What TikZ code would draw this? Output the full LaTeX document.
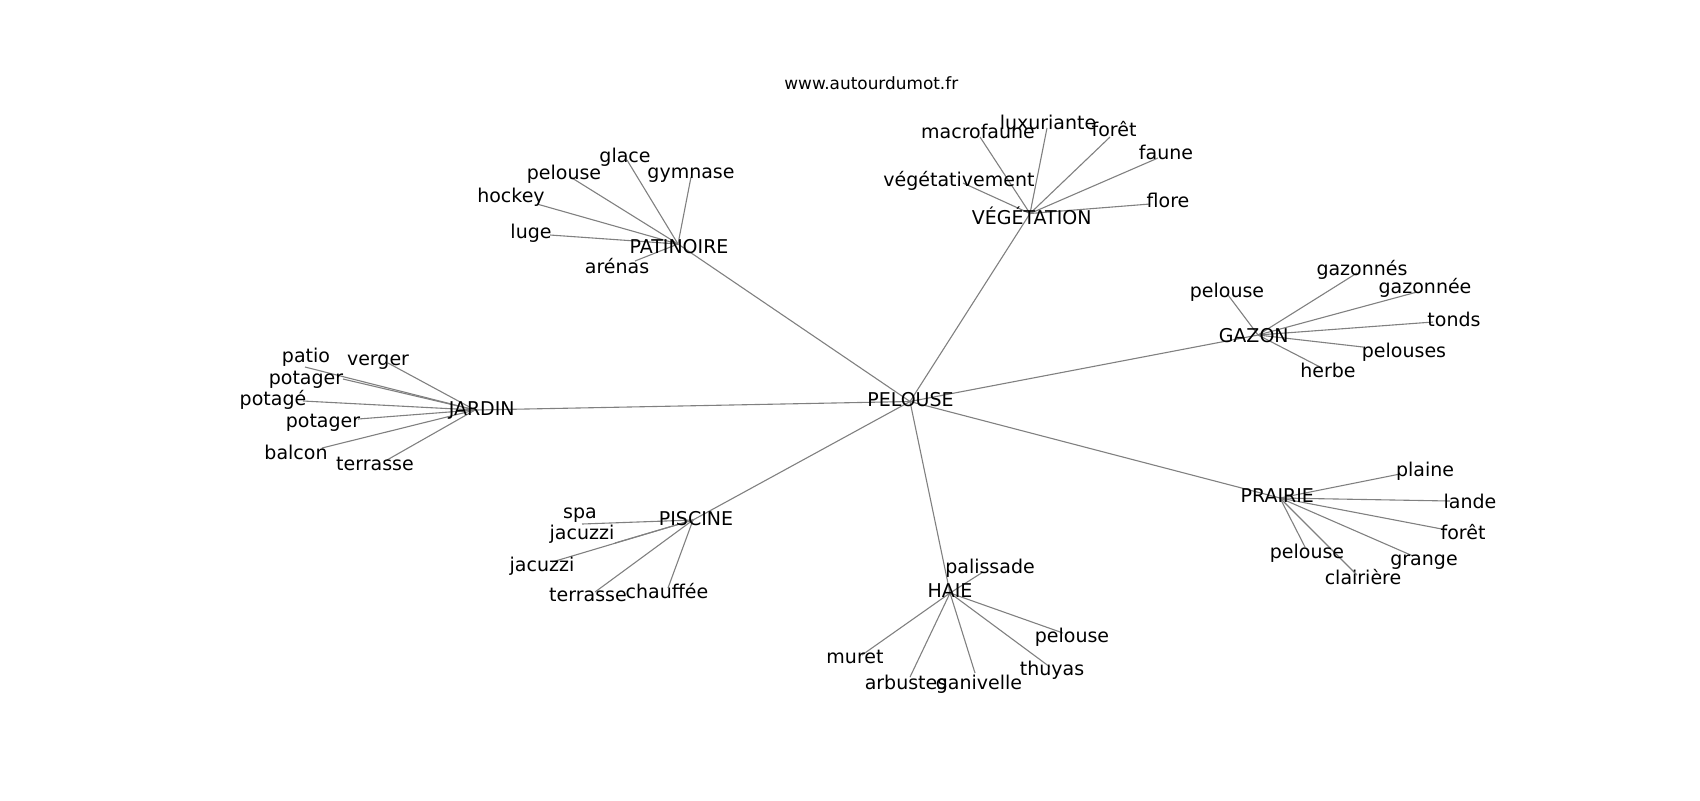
\documentclass[tikz,border=0pt]{standalone}
\usepackage{fontspec}
\setmainfont{DejaVu Sans}
\usepackage{tikz}

\begin{document}
\begin{tikzpicture}[x=0.5pt,y=-0.5pt,
  word/.style={inner sep=0pt,text height=6.9pt,text depth=0pt,font=\fontsize{9.5}{11}\selectfont},
  edge/.style={draw=gray,line width=0.55pt}]

\useasboundingbox (0,0) rectangle (1700,800);

\coordinate (Pelouse) at (910,401.5);
\coordinate (Patinoire) at (678,244);
\coordinate (Vegetation) at (1030,213.5);
\coordinate (Gazon) at (1258,335);
\coordinate (Jardin) at (475,410);
\coordinate (Piscine) at (693,520);
\coordinate (Haie) at (950,593);
\coordinate (Prairie) at (1280,498);

\coordinate (GlacePat) at (627,160);
\coordinate (PelousePat) at (572,178);
\coordinate (GymnasePat) at (691,177);
\coordinate (HockeyPat) at (537,204);
\coordinate (LugePat) at (550,235);
\coordinate (ArenasPat) at (635,261);

\coordinate (MacrofauneVeg) at (980,137);
\coordinate (LuxurianteVeg) at (1047,128);
\coordinate (ForetVeg) at (1110,137);
\coordinate (FauneVeg) at (1158,158);
\coordinate (VegetativementVeg) at (963,183);
\coordinate (FloreVeg) at (1150,204);

\coordinate (PelouseGaz) at (1228,295);
\coordinate (GazonnesGaz) at (1357,273);
\coordinate (GazonneeGaz) at (1417,292);
\coordinate (TondsGaz) at (1433,322);
\coordinate (PelousesGaz) at (1363,347);
\coordinate (HerbeGaz) at (1322,368);

\coordinate (PatioJar) at (305,367);
\coordinate (VergerJar) at (388,363);
\coordinate (PotagerJarA) at (343,379);
\coordinate (PotageJar) at (303,401);
\coordinate (PotagerJarB) at (358,419);
\coordinate (BalconJar) at (322,448);
\coordinate (TerrasseJar) at (387,460);

\coordinate (SpaPis) at (582,524);
\coordinate (JacuzziPisA) at (615,543);
\coordinate (JacuzziPisB) at (552,562);
\coordinate (TerrassePis) at (595,592);
\coordinate (ChauffeePis) at (668,588);

\coordinate (PalissadeHai) at (983,572);
\coordinate (PelouseHai) at (1063,633);
\coordinate (ThuyasHai) at (1050,667);
\coordinate (GanivelleHai) at (975,673);
\coordinate (ArbustesHai) at (910,677);
\coordinate (MuretHai) at (862,655);

\coordinate (PlainePra) at (1400,474);
\coordinate (LandePra) at (1450,501);
\coordinate (ForetPra) at (1447,530);
\coordinate (GrangePra) at (1413,556);
\coordinate (PelousePra) at (1305,547);
\coordinate (ClairierePra) at (1357,575);


\draw [edge] (Pelouse) -- (Patinoire);
\draw [edge] (Pelouse) -- (Vegetation);
\draw [edge] (Pelouse) -- (Gazon);
\draw [edge] (Pelouse) -- (Jardin);
\draw [edge] (Pelouse) -- (Piscine);
\draw [edge] (Pelouse) -- (Haie);
\draw [edge] (Pelouse) -- (Prairie);

\draw [edge] (Patinoire) -- (GlacePat);
\draw [edge] (Patinoire) -- (PelousePat);
\draw [edge] (Patinoire) -- (GymnasePat);
\draw [edge] (Patinoire) -- (HockeyPat);
\draw [edge] (Patinoire) -- (LugePat);
\draw [edge] (Patinoire) -- (ArenasPat);

\draw [edge] (Vegetation) -- (MacrofauneVeg);
\draw [edge] (Vegetation) -- (LuxurianteVeg);
\draw [edge] (Vegetation) -- (ForetVeg);
\draw [edge] (Vegetation) -- (FauneVeg);
\draw [edge] (Vegetation) -- (VegetativementVeg);
\draw [edge] (Vegetation) -- (FloreVeg);

\draw [edge] (Gazon) -- (PelouseGaz);
\draw [edge] (Gazon) -- (GazonnesGaz);
\draw [edge] (Gazon) -- (GazonneeGaz);
\draw [edge] (Gazon) -- (TondsGaz);
\draw [edge] (Gazon) -- (PelousesGaz);
\draw [edge] (Gazon) -- (HerbeGaz);

\draw [edge] (Jardin) -- (PatioJar);
\draw [edge] (Jardin) -- (VergerJar);
\draw [edge] (Jardin) -- (PotagerJarA);
\draw [edge] (Jardin) -- (PotageJar);
\draw [edge] (Jardin) -- (PotagerJarB);
\draw [edge] (Jardin) -- (BalconJar);
\draw [edge] (Jardin) -- (TerrasseJar);

\draw [edge] (Piscine) -- (SpaPis);
\draw [edge] (Piscine) -- (JacuzziPisA);
\draw [edge] (Piscine) -- (JacuzziPisB);
\draw [edge] (Piscine) -- (TerrassePis);
\draw [edge] (Piscine) -- (ChauffeePis);

\draw [edge] (Haie) -- (PalissadeHai);
\draw [edge] (Haie) -- (PelouseHai);
\draw [edge] (Haie) -- (ThuyasHai);
\draw [edge] (Haie) -- (GanivelleHai);
\draw [edge] (Haie) -- (ArbustesHai);
\draw [edge] (Haie) -- (MuretHai);

\draw [edge] (Prairie) -- (PlainePra);
\draw [edge] (Prairie) -- (LandePra);
\draw [edge] (Prairie) -- (ForetPra);
\draw [edge] (Prairie) -- (GrangePra);
\draw [edge] (Prairie) -- (PelousePra);
\draw [edge] (Prairie) -- (ClairierePra);


\node [word,font=\fontsize{8.45}{10}\selectfont] (Title) at (871.3,82.7) {www.autourdumot.fr};

\node [word] (PelouseT) at (910.5,400) {PELOUSE};
\node [word] (PatinoireT) at (679,247) {PATINOIRE};
\node [word] (VegetationT) at (1031.7,217.3) {VÉGÉTATION};
\node [word] (GazonT) at (1253.7,335.7) {GAZON};
\node [word] (JardinT) at (481.7,408.3) {JARDIN};
\node [word] (PiscineT) at (696,518.3) {PISCINE};
\node [word] (HaieT) at (950,590.7) {HAIE};
\node [word] (PrairieT) at (1277.3,496) {PRAIRIE};

\node [word] (GlacePatT) at (625,156) {glace};
\node [word] (PelousePatT) at (564,173) {pelouse};
\node [word] (GymnasePatT) at (691,172) {gymnase};
\node [word] (HockeyPatT) at (511,196) {hockey};
\node [word] (LugePatT) at (531,232) {luge};
\node [word] (ArenasPatT) at (617,267) {arénas};

\node [word] (MacrofauneVegT) at (978,132) {macrofaune};
\node [word] (LuxurianteVegT) at (1048,123) {luxuriante};
\node [word] (ForetVegT) at (1114,130) {forêt};
\node [word] (FauneVegT) at (1166,153) {faune};
\node [word] (VegetativementVegT) at (959,180) {végétativement};
\node [word] (FloreVegT) at (1168,201) {flore};

\node [word] (PelouseGazT) at (1227,291) {pelouse};
\node [word] (GazonnesGazT) at (1362,269) {gazonnés};
\node [word] (GazonneeGazT) at (1425,287) {gazonnée};
\node [word] (TondsGazT) at (1454,320) {tonds};
\node [word] (PelousesGazT) at (1404,351) {pelouses};
\node [word] (HerbeGazT) at (1328,371) {herbe};

\node [word] (PatioJarT) at (306,356) {patio};
\node [word] (VergerJarT) at (378,359) {verger};
\node [word] (PotagerJarAT) at (306,378) {potager};
\node [word] (PotageJarT) at (273,399) {potagé};
\node [word] (PotagerJarBT) at (323,421) {potager};
\node [word] (BalconJarT) at (296,453) {balcon};
\node [word] (TerrasseJarT) at (375,464) {terrasse};

\node [word] (SpaPisT) at (580,512) {spa};
\node [word] (JacuzziPisAT) at (582,533) {jacuzzi};
\node [word] (JacuzziPisBT) at (542,565) {jacuzzi};
\node [word] (TerrassePisT) at (588,595) {terrasse};
\node [word] (ChauffeePisT) at (667,592) {chauffée};

\node [word] (PalissadeHaiT) at (990,567) {palissade};
\node [word] (PelouseHaiT) at (1072,636) {pelouse};
\node [word] (ThuyasHaiT) at (1052,669) {thuyas};
\node [word] (GanivelleHaiT) at (979,683) {ganivelle};
\node [word] (ArbustesHaiT) at (906,683) {arbustes};
\node [word] (MuretHaiT) at (855,657) {muret};

\node [word] (PlainePraT) at (1425,470) {plaine};
\node [word] (LandePraT) at (1470,502) {lande};
\node [word] (ForetPraT) at (1463,533) {forêt};
\node [word] (GrangePraT) at (1424,559) {grange};
\node [word] (PelousePraT) at (1307,552) {pelouse};
\node [word] (ClairierePraT) at (1363,578) {clairière};


\end{tikzpicture}
\end{document}
